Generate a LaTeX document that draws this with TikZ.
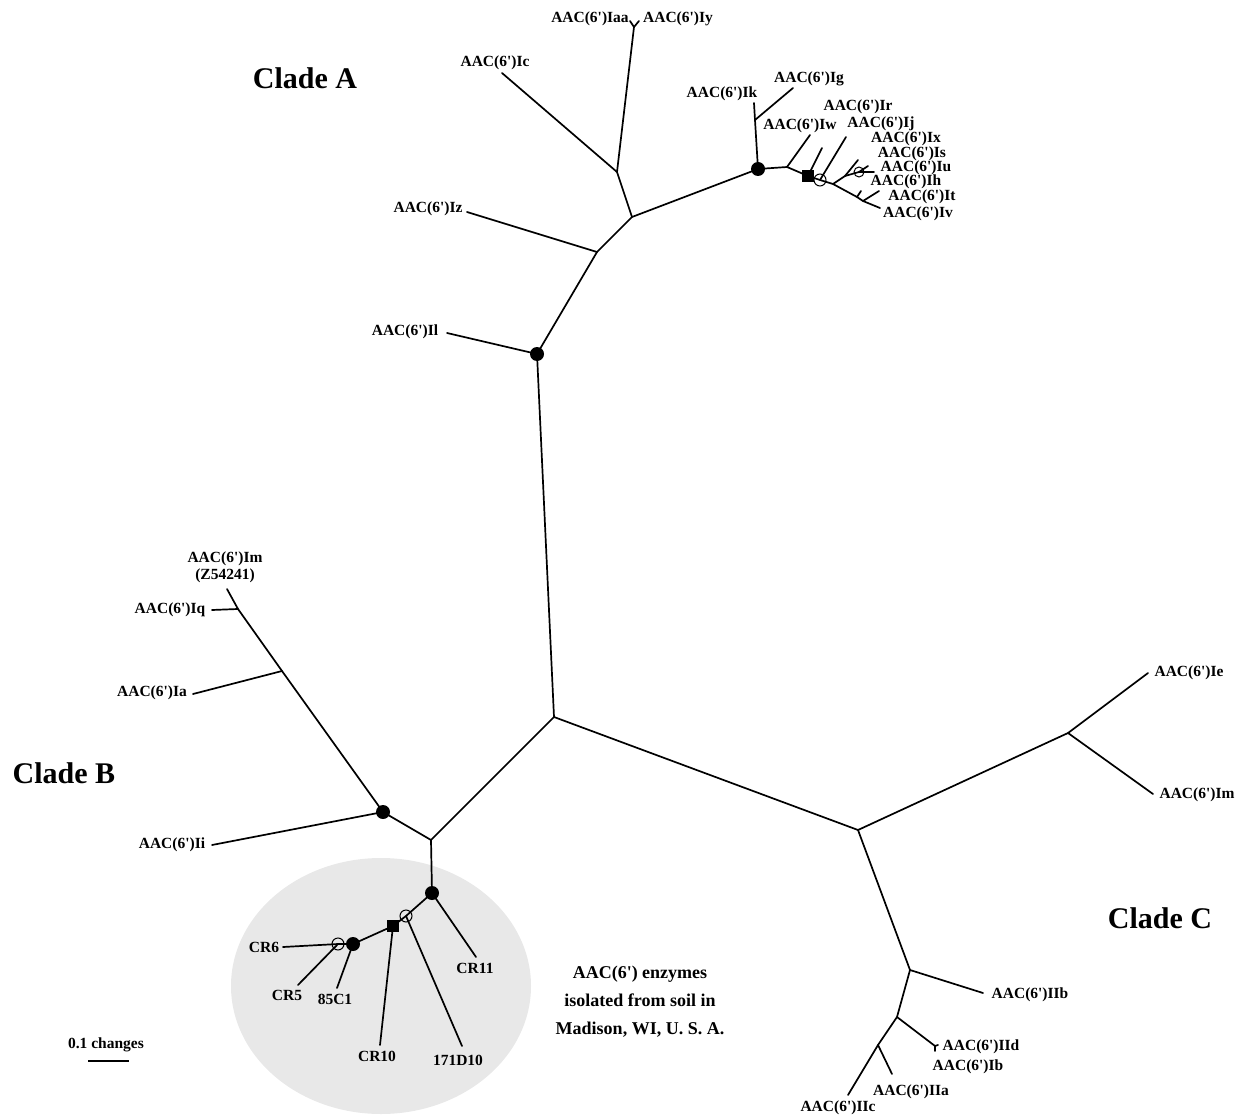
\documentclass[tikz,border=0pt]{standalone}
\usepackage{fontspec}
\setmainfont{Liberation Serif}
\newcommand{\aac}{AAC(6\textquotesingle)}
\tikzset{
  branch/.style={draw=black, line width=1.7pt, line cap=round},
  leaf/.style={font=\bfseries\fontsize{15.5}{17}\selectfont, inner sep=0pt},
  clade/.style={font=\bfseries\fontsize{30}{34}\selectfont, inner sep=0pt},
  note/.style={font=\bfseries\fontsize{18}{28}\selectfont, align=center, inner sep=0pt},
  fulldot/.style={fill=black},
  opendot/.style={draw=black, line width=1pt},
  sqmark/.style={fill=black},
  soil/.style={fill=gray!18}
}

\begin{document}
\begin{tikzpicture}[x=1pt, y=-1pt]
  \useasboundingbox (0,0) rectangle (1245,1118);
  % soil isolates
  \fill[soil] (381,986) ellipse (150 and 128);

  % branch points
  \coordinate (root) at (554,717);
  \coordinate (a1) at (537,354);
  \coordinate (a2) at (597,252);
  \coordinate (a3) at (632,217);
  \coordinate (a4) at (617,172);
  \coordinate (a5) at (634,27);
  \coordinate (a6) at (758,169);
  \coordinate (a7) at (755,120);
  \coordinate (a8) at (787,167);
  \coordinate (a9) at (808,176);
  \coordinate (a10) at (820,180);
  \coordinate (a11) at (833,184);
  \coordinate (a12) at (845,176);
  \coordinate (a13) at (859,172);
  \coordinate (a14) at (857,197);
  \coordinate (a15) at (863,201);
  \coordinate (b1) at (431,840);
  \coordinate (b2) at (383,812);
  \coordinate (b3) at (282,671);
  \coordinate (b4) at (238,609);
  \coordinate (b5) at (432,893);
  \coordinate (b6) at (406,916);
  \coordinate (b7) at (393,926);
  \coordinate (b8) at (353,944);
  \coordinate (b9) at (338,944);
  \coordinate (c1) at (858,830);
  \coordinate (c2) at (1068,733);
  \coordinate (c3) at (910,970);
  \coordinate (c4) at (897,1017);
  \coordinate (c5) at (878,1045);
  \coordinate (c6) at (935,1046);

  % leaf ends
  \coordinate (eIl) at (447,333);
  \coordinate (eIz) at (467,212);
  \coordinate (eIc) at (502,73);
  \coordinate (eIaa) at (630,21);
  \coordinate (eIy) at (639,21);
  \coordinate (eIk) at (754,103);
  \coordinate (eIg) at (793,88);
  \coordinate (eIw) at (810,135);
  \coordinate (eIr) at (822,148);
  \coordinate (eIj) at (846,137);
  \coordinate (eIx) at (858,160);
  \coordinate (eIs) at (868,166);
  \coordinate (eIu) at (874,172);
  \coordinate (eIh) at (861,191);
  \coordinate (eIt) at (879,191);
  \coordinate (eIv) at (880,208);
  \coordinate (eIi) at (212,845);
  \coordinate (eIa) at (193,694);
  \coordinate (eIq) at (212,610);
  \coordinate (eImB) at (227,589);
  \coordinate (eCR11) at (476,957);
  \coordinate (eD171) at (462,1046);
  \coordinate (eCR10) at (380,1045);
  \coordinate (eC85) at (337,988);
  \coordinate (eCR6) at (283,947);
  \coordinate (eCR5) at (298,985);
  \coordinate (eIe) at (1148,673);
  \coordinate (eImC) at (1153,794);
  \coordinate (eIIb) at (983,993);
  \coordinate (eIId) at (938,1045);
  \coordinate (eIb) at (935,1051);
  \coordinate (eIIa) at (892,1074);
  \coordinate (eIIc) at (848,1095);

  % Clade A
  \draw[branch] (root) -- (a1) -- (a2) -- (a3) -- (a6) -- (a8) -- (a9) -- (a10) -- (a11) -- (a14) -- (a15) -- (eIv);
  \draw[branch] (a1) -- (eIl);
  \draw[branch] (a2) -- (eIz);
  \draw[branch] (a3) -- (a4) -- (a5);
  \draw[branch] (a4) -- (eIc);
  \draw[branch] (eIaa) -- (a5) -- (eIy);
  \draw[branch] (a6) -- (a7) -- (eIk);
  \draw[branch] (a7) -- (eIg);
  \draw[branch] (a8) -- (eIw);
  \draw[branch] (a9) -- (eIr);
  \draw[branch] (a10) -- (eIj);
  \draw[branch] (a11) -- (a12) -- (eIx);
  \draw[branch] (a12) -- (a13) -- (eIu);
  \draw[branch] (a13) -- (eIs);
  \draw[branch] (a14) -- (eIh);
  \draw[branch] (a15) -- (eIt);

  % Clade B
  \draw[branch] (root) -- (b1) -- (b2) -- (b3) -- (b4) -- (eImB);
  \draw[branch] (b2) -- (eIi);
  \draw[branch] (b3) -- (eIa);
  \draw[branch] (b4) -- (eIq);
  \draw[branch] (b1) -- (b5) -- (b6) -- (b7) -- (b8) -- (b9) -- (eCR6);
  \draw[branch] (b5) -- (eCR11);
  \draw[branch] (b6) -- (eD171);
  \draw[branch] (b7) -- (eCR10);
  \draw[branch] (b8) -- (eC85);
  \draw[branch] (b9) -- (eCR5);

  % Clade C
  \draw[branch] (root) -- (c1) -- (c2) -- (eIe);
  \draw[branch] (c2) -- (eImC);
  \draw[branch] (c1) -- (c3) -- (c4) -- (c5) -- (eIIc);
  \draw[branch] (c3) -- (eIIb);
  \draw[branch] (c4) -- (c6) -- (eIId);
  \draw[branch] (c6) -- (eIb);
  \draw[branch] (c5) -- (eIIa);

  % node marks
  \fill[fulldot] (a1) circle (7);
  \fill[fulldot] (a6) circle (7);
  \fill[sqmark] (a9) +(-6,-6) rectangle +(6,6);
  \draw[opendot] (a10) circle (6);
  \draw[opendot] (a13) circle (5);
  \fill[fulldot] (b2) circle (7);
  \fill[fulldot] (b5) circle (7);
  \draw[opendot] (b6) circle (6);
  \fill[sqmark] (b7) +(-6,-6) rectangle +(6,6);
  \fill[fulldot] (b8) circle (7);
  \draw[opendot] (b9) circle (6);

  % leaf labels
  \node[leaf] (Il) at (405,332) {\aac Il};
  \node[leaf] (Iz) at (428,209) {\aac Iz};
  \node[leaf] (Ic) at (495,63) {\aac Ic};
  \node[leaf] (Iaa) at (590,19) {\aac Iaa};
  \node[leaf] (Iy) at (678,19) {\aac Iy};
  \node[leaf] (Ik) at (722,94) {\aac Ik};
  \node[leaf] (Ig) at (809,79) {\aac Ig};
  \node[leaf] (Ir) at (858,107) {\aac Ir};
  \node[leaf] (Iw) at (800,126) {\aac Iw};
  \node[leaf] (Ij) at (881,124) {\aac Ij};
  \node[leaf] (Ix) at (906,139) {\aac Ix};
  \node[leaf] (Is) at (912,154) {\aac Is};
  \node[leaf] (Iu) at (916,168) {\aac Iu};
  \node[leaf] (Ih) at (906,182) {\aac Ih};
  \node[leaf] (It) at (922,197) {\aac It};
  \node[leaf] (Iv) at (918,214) {\aac Iv};
  \node[leaf] (Ii) at (172,845) {\aac Ii};
  \node[leaf] (Ia) at (152,693) {\aac Ia};
  \node[leaf] (Iq) at (170,610) {\aac Iq};
  \node[leaf, align=center] (ImB) at (225,567) {\aac Im\\(Z54241)};
  \node[leaf] (CR11) at (475,968) {CR11};
  \node[leaf] (D171) at (458,1060) {171D10};
  \node[leaf] (CR10) at (377,1056) {CR10};
  \node[leaf] (C85) at (335,999) {85C1};
  \node[leaf] (CR6) at (264,947) {CR6};
  \node[leaf] (CR5) at (287,995) {CR5};
  \node[leaf] (Ie) at (1189,673) {\aac Ie};
  \node[leaf] (ImC) at (1197,795) {\aac Im};
  \node[leaf] (IIb) at (1030,995) {\aac IIb};
  \node[leaf] (IId) at (981,1047) {\aac IId};
  \node[leaf] (Ib) at (968,1067) {\aac Ib};
  \node[leaf] (IIa) at (911,1092) {\aac IIa};
  \node[leaf] (IIc) at (838,1108) {\aac IIc};

  % clade names
  \node[clade] (cladeA) at (305,78) {Clade A};
  \node[clade] (cladeB) at (64,773) {Clade B};
  \node[clade] (cladeC) at (1160,918) {Clade C};
  \node[note] (soiltext) at (640,1002) {\aac{} enzymes\\isolated from soil in\\Madison, WI, U. S. A.};

  % scale bar
  \node[leaf] (scale) at (106,1045) {0.1 changes};
  \coordinate (sb1) at (88,1061);
  \coordinate (sb2) at (129,1061);
  \draw[line width=1.5pt] (sb1) -- (sb2);
\end{tikzpicture}
\end{document}
